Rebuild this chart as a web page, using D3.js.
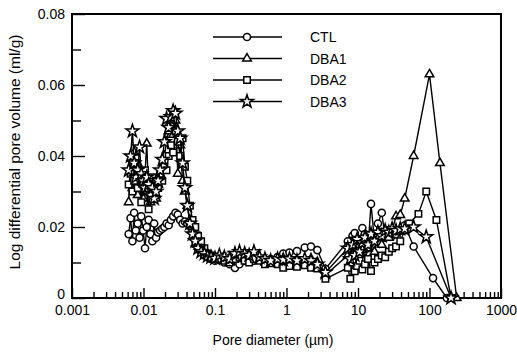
<!DOCTYPE html>
<html>
<head>
<meta charset="utf-8">
<script src="https://cdn.jsdelivr.net/npm/d3@7"></script>
<style>
  body { margin: 0; background: #fff; }
  text { font-family: "Liberation Sans", Arial, sans-serif; fill: #000; }
</style>
</head>
<body>
<div id="chart"></div>
<script>
// pore diameters (um): fine pores, coarse pores, then the tail where the series differ
const diameter = [
  0.0062, 0.0066, 0.0070, 0.0074, 0.0078, 0.0083, 0.0088, 0.0093, 0.0099, 0.0105,
  0.0111, 0.0118, 0.0125, 0.0133, 0.0141, 0.0150, 0.0160, 0.0171, 0.0183, 0.0196,
  0.0210, 0.0225, 0.0242, 0.0260, 0.0280, 0.0302, 0.0326, 0.0352, 0.0380, 0.0410,
  0.0445, 0.0485, 0.053, 0.058, 0.064, 0.071, 0.079, 0.088, 0.1, 0.115,
  0.135, 0.16, 0.19, 0.22, 0.26, 0.3, 0.35, 0.42, 0.5, 0.6,
  0.75, 0.9, 1.1, 1.4, 1.8, 2.2, 2.7, 3.5,
  7.2, 7.8, 8.4, 9.0, 9.7, 10.5, 11.5, 12.5, 13.8, 15.2,
  17, 19, 21.5, 24, 27, 30, 34, 39,
  45, 52, 60, 70, 90, 100, 112, 125, 140, 175, 200, 240
];

const ctl = [
  0.018, 0.0225, 0.016, 0.024, 0.019, 0.021, 0.017, 0.023, 0.019, 0.014,
  0.020, 0.022, 0.018, 0.016, 0.021, 0.017, 0.0185, 0.019, 0.0195, 0.020,
  0.021, 0.0205, 0.022, 0.023, 0.024, 0.0235, 0.022, 0.021, 0.0215, 0.021,
  0.0205, 0.019, 0.016, 0.014, 0.013, 0.012, 0.0115, 0.011, 0.0105, 0.0108,
  0.010, 0.0095, 0.0085, 0.0095, 0.0105, 0.011, 0.0105, 0.011, 0.0108, 0.011,
  0.0115, 0.0125, 0.0128, 0.0132, 0.0142, 0.0145, 0.0135, 0.0082,
  0.016, 0.013, 0.0175, 0.0183, 0.012, 0.015, 0.0197, 0.018, 0.014, 0.0265,
  0.016, 0.021, 0.024, 0.017, 0.019, 0.0175, 0.018, 0.019,
  0.0205, null, 0.0145, null, null, null, 0.0056, null, null, 0, null, null
];

const dba1 = [
  0.027, 0.036, 0.031, 0.041, 0.034, 0.029, 0.037, 0.032, 0.028, 0.035,
  0.0435, 0.030, 0.027, 0.033, 0.031, 0.028, 0.032, 0.034, 0.037, 0.040,
  0.044, 0.047, 0.049, 0.046, 0.050, 0.035, 0.043, 0.033, 0.030, 0.026,
  0.022, 0.020, 0.017, 0.015, 0.0135, 0.013, 0.012, 0.0115, 0.011, 0.0115,
  0.011, 0.0105, 0.011, 0.0125, 0.012, 0.0115, 0.0125, 0.011, 0.0105, 0.010,
  0.0105, 0.011, 0.0105, 0.0095, 0.0105, 0.011, 0.010, 0.0065,
  0.012, 0.009, 0.011, 0.013, 0.010, 0.012, 0.0135, 0.011, 0.014, 0.016,
  0.013, 0.0175, 0.015, 0.018, 0.017, 0.019, 0.023, 0.0234,
  0.028, null, 0.040, null, null, 0.063, null, null, 0.038, null, null, 0
];

const dba2 = [
  0.032, 0.035, 0.030, 0.033, 0.038, 0.031, 0.034, 0.027, 0.032, 0.036,
  0.030, 0.025, 0.031, 0.034, 0.029, 0.033, 0.031, 0.035, 0.033, 0.037,
  0.036, 0.040, 0.043, 0.041, 0.047, 0.044, 0.040, 0.045, 0.037, 0.033,
  0.026, 0.022, 0.020, 0.0175, 0.016, 0.014, 0.0125, 0.012, 0.0115, 0.011,
  0.0105, 0.010, 0.011, 0.0115, 0.0105, 0.010, 0.011, 0.0105, 0.0095, 0.0098,
  0.0095, 0.0085, 0.009, 0.0088, 0.0092, 0.0085, 0.0083, 0.0054,
  0.0085, 0.0054, 0.010, 0.0075, 0.009, 0.0105, 0.008, 0.0095, 0.011, 0.0076,
  0.010, 0.011, 0.012, 0.0115, 0.013, 0.014, 0.0145, 0.016,
  0.019, 0.021, null, 0.0237, 0.030, null, null, 0.022, null, null, 0, null
];

const dba3 = [
  0.036, 0.040, 0.047, 0.038, 0.034, 0.036, 0.0425, 0.035, 0.033, 0.031,
  0.034, 0.032, 0.029, 0.031, 0.028, 0.030, 0.033, 0.036, 0.039, 0.044,
  0.0505, 0.048, 0.051, 0.0527, 0.052, 0.047, 0.045, 0.038, 0.031, 0.026,
  0.021, 0.018, 0.016, 0.014, 0.013, 0.0125, 0.0118, 0.0115, 0.0112, 0.012,
  0.0115, 0.011, 0.0125, 0.013, 0.0125, 0.012, 0.013, 0.0115, 0.011, 0.0105,
  0.011, 0.0108, 0.011, 0.0105, 0.011, 0.0105, 0.0095, 0.0072,
  0.014, 0.011, 0.015, 0.012, 0.0165, 0.013, 0.0155, 0.017, 0.015, 0.018,
  0.016, 0.0185, 0.0175, 0.019, 0.0185, 0.0195, 0.019, 0.0195,
  0.0195, null, 0.020, null, 0.0172, null, null, null, null, null, 0, null
];

const seriesNames = ['CTL', 'DBA1', 'DBA2', 'DBA3'];
const xTickValues = [0.001, 0.01, 0.1, 1, 10, 100, 1000];
const yTickValues = [0, 0.02, 0.04, 0.06, 0.08];

const width = 517, height = 353;
const margin = {top: 14, right: 16, bottom: 55, left: 72};

const svg = d3.select('#chart').append('svg')
  .attr('width', width)
  .attr('height', height);

const x = d3.scaleLog()
  .domain([0.001, 1000])
  .range([margin.left, width - margin.right]);

const y = d3.scaleLinear()
  .domain([0, 0.08])
  .range([height - margin.bottom, margin.top]);

const symbols = [d3.symbolCircle, d3.symbolTriangle, d3.symbolSquare, d3.symbolStar];
const symbolSizes = [40, 32, 42, 52];

// minor ticks on the log axis (2..9 of every decade)
const xMinor = [];
for (let e = -3; e < 3; e++) {
  for (let m = 2; m <= 9; m++) xMinor.push(m * Math.pow(10, e));
}

svg.append('g')
  .attr('transform', 'translate(0,' + y(0) + ')')
  .call(d3.axisBottom(x).tickValues(xTickValues).tickFormat(d3.format('~g'))
    .tickSizeInner(-10).tickSizeOuter(0).tickPadding(7));

svg.append('g')
  .attr('transform', 'translate(0,' + y(0) + ')')
  .call(d3.axisBottom(x).tickValues(xMinor).tickFormat('')
    .tickSizeInner(-6).tickSizeOuter(0));

const yAxis = svg.append('g')
  .attr('transform', 'translate(' + margin.left + ',0)')
  .call(d3.axisLeft(y).tickValues(yTickValues).tickFormat(d3.format('~g'))
    .tickSizeInner(-13).tickSizeOuter(0).tickPadding(7));

// lift the "0" a little so it clears "0.001"
yAxis.selectAll('.tick text').filter(d => d === 0).attr('dy', '0.02em');

svg.append('g')
  .attr('transform', 'translate(' + margin.left + ',0)')
  .call(d3.axisLeft(y).tickValues([0.01, 0.03, 0.05, 0.07]).tickFormat('')
    .tickSizeInner(-9).tickSizeOuter(0));

svg.selectAll('.domain').remove();
svg.selectAll('.tick line').attr('stroke', '#000').attr('stroke-width', 1.4);
svg.selectAll('.tick text').style('font-size', '14px');

// frame
svg.append('rect')
  .attr('x', x(0.001))
  .attr('y', y(0.08))
  .attr('width', x(1000) - x(0.001))
  .attr('height', y(0) - y(0.08))
  .attr('fill', 'none')
  .attr('stroke', '#000')
  .attr('stroke-width', 2);

const line = d3.line()
  .x(d => x(d[0]))
  .y(d => y(d[1]));

[ctl, dba1, dba2, dba3].forEach((vals, i) => {
  const pts = diameter.map((d, j) => [d, vals[j]]).filter(p => p[1] !== null);

  svg.append('path')
    .datum(pts)
    .attr('d', line)
    .attr('fill', 'none')
    .attr('stroke', '#000')
    .attr('stroke-width', 1.4);

  svg.append('g').selectAll('path')
    .data(pts)
    .enter().append('path')
      .attr('d', d3.symbol().type(symbols[i]).size(symbolSizes[i]))
      .attr('transform', d => 'translate(' + x(d[0]) + ',' + y(d[1]) + ')')
      .attr('fill', '#fff')
      .attr('stroke', '#000')
      .attr('stroke-width', 1.5);
});

// legend
const legend = svg.append('g');
seriesNames.forEach((name, i) => {
  const ly = 37 + i * 21.5;
  legend.append('line')
    .attr('x1', 213).attr('x2', 282)
    .attr('y1', ly).attr('y2', ly)
    .attr('stroke', '#000').attr('stroke-width', 1.4);
  legend.append('path')
    .attr('d', d3.symbol().type(symbols[i]).size(symbolSizes[i]))
    .attr('transform', 'translate(247,' + ly + ')')
    .attr('fill', '#fff').attr('stroke', '#000').attr('stroke-width', 1.5);
  legend.append('text')
    .attr('x', 310).attr('y', ly + 5)
    .style('font-size', '14px')
    .text(name);
});

// axis titles
svg.append('text')
  .attr('text-anchor', 'middle')
  .attr('x', 273)
  .attr('y', 345)
  .style('font-size', '14px')
  .text('Pore diameter (\u00b5m)');

svg.append('text')
  .attr('text-anchor', 'middle')
  .attr('transform', 'translate(20,152) rotate(-90)')
  .style('font-size', '15.5px')
  .text('Log differential pore volume (ml/g)');
</script>
</body>
</html>
